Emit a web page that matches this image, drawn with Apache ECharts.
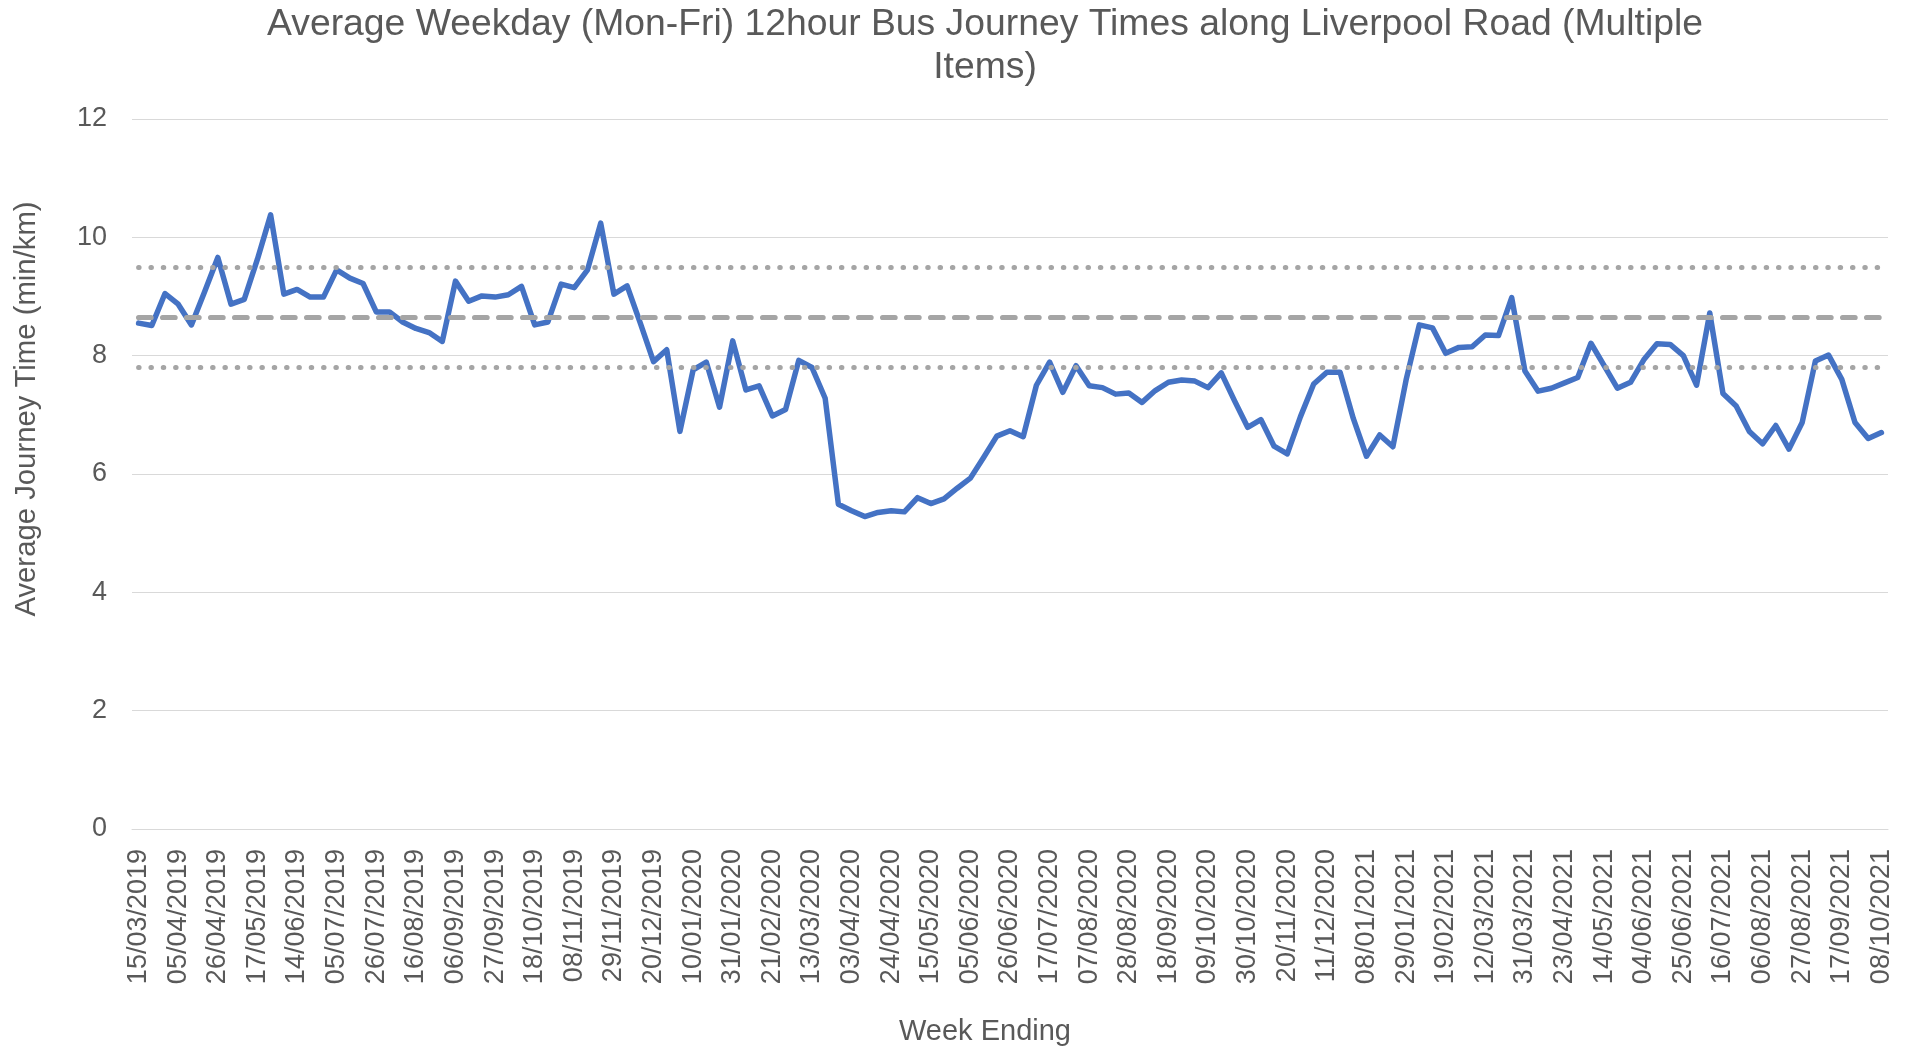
<!DOCTYPE html>
<html>
<head>
<meta charset="utf-8">
<script src="https://cdn.jsdelivr.net/npm/echarts@6/dist/echarts.min.js"></script>
<style>
  html, body { margin: 0; padding: 0; background: #ffffff; }
  #chart { width: 1910px; height: 1050px; }
</style>
</head>
<body>
<div id="chart"></div>
<script>
const chartTitle = 'Average Weekday (Mon-Fri) 12hour Bus Journey Times along Liverpool Road (Multiple\nItems)';
const yAxisTitle = 'Average Journey Time (min/km)';
const xAxisTitle = 'Week Ending';

const weeks = [
  '15/03/2019','22/03/2019','29/03/2019','05/04/2019','12/04/2019','19/04/2019','26/04/2019','03/05/2019','10/05/2019','17/05/2019',
  '24/05/2019','07/06/2019','14/06/2019','21/06/2019','28/06/2019','05/07/2019','12/07/2019','19/07/2019','26/07/2019','02/08/2019',
  '09/08/2019','16/08/2019','23/08/2019','30/08/2019','06/09/2019','13/09/2019','20/09/2019','27/09/2019','04/10/2019','11/10/2019',
  '18/10/2019','25/10/2019','01/11/2019','08/11/2019','15/11/2019','22/11/2019','29/11/2019','06/12/2019','13/12/2019','20/12/2019',
  '27/12/2019','03/01/2020','10/01/2020','17/01/2020','24/01/2020','31/01/2020','07/02/2020','14/02/2020','21/02/2020','28/02/2020',
  '06/03/2020','13/03/2020','20/03/2020','27/03/2020','03/04/2020','10/04/2020','17/04/2020','24/04/2020','01/05/2020','08/05/2020',
  '15/05/2020','22/05/2020','29/05/2020','05/06/2020','12/06/2020','19/06/2020','26/06/2020','03/07/2020','10/07/2020','17/07/2020',
  '24/07/2020','31/07/2020','07/08/2020','14/08/2020','21/08/2020','28/08/2020','04/09/2020','11/09/2020','18/09/2020','25/09/2020',
  '02/10/2020','09/10/2020','16/10/2020','23/10/2020','30/10/2020','06/11/2020','13/11/2020','20/11/2020','27/11/2020','04/12/2020',
  '11/12/2020','18/12/2020','01/01/2021','08/01/2021','15/01/2021','22/01/2021','29/01/2021','05/02/2021','12/02/2021','19/02/2021',
  '26/02/2021','05/03/2021','12/03/2021','19/03/2021','26/03/2021','31/03/2021','09/04/2021','16/04/2021','23/04/2021','30/04/2021',
  '07/05/2021','14/05/2021','21/05/2021','28/05/2021','04/06/2021','11/06/2021','18/06/2021','25/06/2021','02/07/2021','09/07/2021',
  '16/07/2021','23/07/2021','30/07/2021','06/08/2021','13/08/2021','20/08/2021','27/08/2021','03/09/2021','10/09/2021','17/09/2021',
  '24/09/2021','01/10/2021','08/10/2021'
];

const journeyTimes = [
  8.55, 8.51, 9.05, 8.87, 8.52, 9.08, 9.66, 8.87, 8.95, 9.63, 10.38, 9.04, 9.12, 8.99, 8.99, 9.45, 9.31, 9.22, 8.74, 8.74, 8.57, 8.46,
  8.39, 8.24, 9.26, 8.92, 9.01, 8.99, 9.03, 9.17, 8.52, 8.57, 9.21, 9.15, 9.45, 10.24, 9.04, 9.18, 8.55, 7.90, 8.10, 6.72, 7.76, 7.89,
  7.13, 8.25, 7.42, 7.49, 6.98, 7.09, 7.92, 7.80, 7.28, 5.49, 5.38, 5.28, 5.35, 5.38, 5.36, 5.60, 5.50, 5.58, 5.76, 5.93, 6.28, 6.64,
  6.73, 6.63, 7.50, 7.89, 7.38, 7.83, 7.49, 7.46, 7.35, 7.37, 7.21, 7.41, 7.55, 7.59, 7.57, 7.46, 7.71, 7.24, 6.79, 6.92, 6.47, 6.34,
  6.97, 7.52, 7.72, 7.72, 6.94, 6.30, 6.66, 6.46, 7.59, 8.52, 8.47, 8.04, 8.14, 8.15, 8.35, 8.34, 8.98, 7.74, 7.40, 7.45, 7.54, 7.63,
  8.21, 7.83, 7.45, 7.55, 7.93, 8.20, 8.19, 8.00, 7.50, 8.72, 7.36, 7.15, 6.72, 6.51, 6.82, 6.42, 6.87, 7.91, 8.01, 7.60, 6.87, 6.60, 6.70
];

const meanValue = 8.65;
const upperValue = 9.49;
const lowerValue = 7.81;

const yTicks = { min: 0, max: 12, interval: 2 };

const FONT = '"Liberation Sans", Arial, Helvetica, sans-serif';
const TEXT = '#595959';
const GRID = '#d9d9d9';

const first = weeks[0];
const last = weeks[weeks.length - 1];

const dottedStyle = { type: [0.5, 11.83], color: '#a5a5a5', width: 5, cap: 'round' };
const dashedStyle = { type: [12.5, 11.5], color: '#a5a5a5', width: 5.2, cap: 'round' };

function hLine(v, style) {
  return [{ xAxis: first, yAxis: v, lineStyle: style }, { xAxis: last, yAxis: v }];
}

const chart = echarts.init(document.getElementById('chart'), null, { renderer: 'canvas' });

chart.setOption({
  animation: false,
  backgroundColor: '#ffffff',
  textStyle: { fontFamily: FONT, color: TEXT },
  grid: { left: 132, right: 22, top: 119, bottom: 221 },
  graphic: [
    {
      type: 'text', x: 985, y: 3, z: 10,
      style: {
        text: chartTitle, fontSize: 37.3, fontFamily: FONT, fill: TEXT,
        textAlign: 'center', align: 'center', textVerticalAlign: 'top', verticalAlign: 'top',
        lineHeight: 43
      }
    },
    {
      type: 'text', x: 27, y: 409, rotation: Math.PI / 2, z: 10,
      style: {
        text: yAxisTitle, fontSize: 29.3, fontFamily: FONT, fill: TEXT,
        textAlign: 'center', align: 'center', textVerticalAlign: 'middle', verticalAlign: 'middle'
      }
    },
    {
      type: 'text', x: 985, y: 1032, z: 10,
      style: {
        text: xAxisTitle, fontSize: 29, fontFamily: FONT, fill: TEXT,
        textAlign: 'center', align: 'center', textVerticalAlign: 'middle', verticalAlign: 'middle'
      }
    }
  ],
  xAxis: {
    type: 'category',
    data: weeks,
    boundaryGap: true,
    axisLine: { show: true, lineStyle: { color: GRID, width: 1 } },
    axisTick: { show: false },
    splitLine: { show: false },
    axisLabel: {
      interval: 2,
      rotate: 90,
      margin: 20,
      fontSize: 27,
      fontFamily: FONT,
      color: TEXT
    }
  },
  yAxis: {
    type: 'value',
    min: yTicks.min,
    max: yTicks.max,
    interval: yTicks.interval,
    axisLine: { show: false },
    axisTick: { show: false },
    splitLine: { show: true, lineStyle: { color: GRID, width: 1 } },
    axisLabel: { margin: 25, fontSize: 27, fontFamily: FONT, color: TEXT }
  },
  series: [
    {
      name: 'Reference lines',
      type: 'line',
      data: [],
      z: 1,
      silent: true,
      markLine: {
        silent: true,
        symbol: ['none', 'none'],
        label: { show: false },
        emphasis: { disabled: true },
        data: [
          hLine(upperValue, dottedStyle),
          hLine(meanValue, dashedStyle),
          hLine(lowerValue, dottedStyle)
        ]
      }
    },
    {
      name: 'Average Journey Time',
      type: 'line',
      data: journeyTimes,
      z: 3,
      showSymbol: false,
      symbol: 'none',
      lineStyle: { color: '#4472c4', width: 5.5, join: 'round', cap: 'round' },
      itemStyle: { color: '#4472c4' }
    }
  ]
});
</script>
</body>
</html>
